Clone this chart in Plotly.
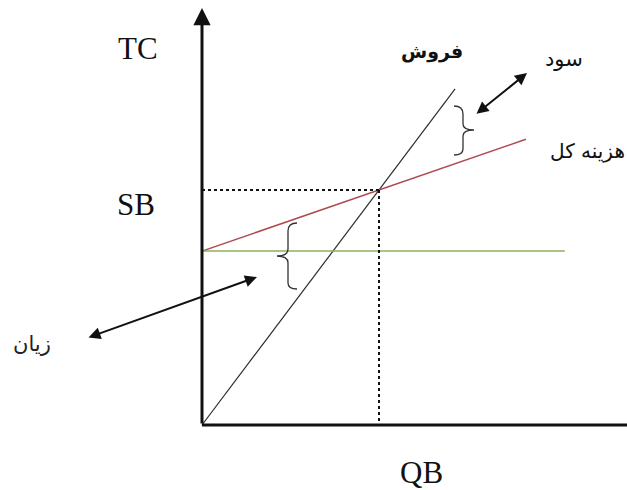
import plotly.graph_objects as go

# ---------------- data (chart units) ----------------
sales_q = [0.0, 7.15]
sales_v = [0.0, 14.3]
cost_q = [0.0, 9.15]
cost_v = [7.4, 12.16]
fixed_q = [0.0, 10.25]
fixed_v = [7.4, 7.4]
breakeven_q = 5.0
breakeven_v = 10.0

label_tc = "TC"
label_sb = "SB"
label_qb = "QB"
label_sales = "فروش"
label_profit = "سود"
label_cost = "هزینه کل"
label_loss = "زیان"

# ---------------- layout helpers ----------------
W, H = 627, 490
OX, OY = 202, 425          # origin in pixels
SX, SY = 35.4, 23.5        # pixels per unit
x_range = [-OX / SX, (W - OX) / SX]
y_range = [(OY - H) / SY, OY / SY]


def px2x(px):
    return (px - OX) / SX


def py2y(py):
    return (OY - py) / SY


def path_from_px(cmds):
    out = []
    for c in cmds:
        letter, pts = c[0], c[1:]
        s = letter + " " + " ".join(f"{px2x(a):.4f},{py2y(b):.4f}" for a, b in pts)
        out.append(s)
    return " ".join(out)


fig = go.Figure()

# sales line
fig.add_trace(go.Scatter(x=sales_q, y=sales_v, mode="lines",
                         line=dict(color="#2b2b2b", width=1.2), hoverinfo="skip"))
# total cost line
fig.add_trace(go.Scatter(x=cost_q, y=cost_v, mode="lines",
                         line=dict(color="#b04a50", width=1.5), hoverinfo="skip"))
# fixed cost line
fig.add_trace(go.Scatter(x=fixed_q, y=fixed_v, mode="lines",
                         line=dict(color="#8db05a", width=1.5), hoverinfo="skip"))
# break-even dotted guides
fig.add_trace(go.Scatter(x=[0, breakeven_q], y=[breakeven_v, breakeven_v], mode="lines",
                         line=dict(color="#111", width=2, dash="dot"), hoverinfo="skip"))
fig.add_trace(go.Scatter(x=[breakeven_q, breakeven_q], y=[breakeven_v, 0], mode="lines",
                         line=dict(color="#111", width=2, dash="dot"), hoverinfo="skip"))

shapes = []
# x axis
shapes.append(dict(type="line", xref="x", yref="y", x0=0, y0=0, x1=x_range[1] + 1, y1=0,
                   line=dict(color="#111", width=3)))

# braces
profit_brace = path_from_px([
    ("M", (454, 106)), ("C", (460, 106), (463, 108), (463, 114)), ("L", (463, 124)),
    ("C", (463, 128), (466, 130), (474, 130)), ("C", (466, 130), (463, 132), (463, 136)),
    ("L", (463, 149)), ("C", (463, 153), (460, 155), (454, 155)),
])
loss_brace = path_from_px([
    ("M", (297, 223)), ("C", (291, 223), (288, 225), (288, 231)), ("L", (288, 249)),
    ("C", (288, 253), (285, 256), (277, 256)), ("C", (285, 256), (288, 259), (288, 263)),
    ("L", (288, 283)), ("C", (288, 287), (291, 289), (297, 289)),
])
for p in (profit_brace, loss_brace):
    shapes.append(dict(type="path", xref="x", yref="y", path=p,
                       line=dict(color="#333", width=1.3)))

annotations = []
# y axis with arrow
annotations.append(dict(x=0, y=py2y(8), ax=0, ay=0, xref="x", yref="y", axref="x", ayref="y",
                        showarrow=True, arrowhead=2, arrowsize=1.15, arrowwidth=3,
                        arrowcolor="#111", text=""))
# double-headed arrows
annotations.append(dict(x=px2x(527), y=py2y(73), ax=px2x(475), ay=py2y(115),
                        xref="x", yref="y", axref="x", ayref="y", text="",
                        showarrow=True, arrowside="end+start", arrowhead=2, startarrowhead=2,
                        arrowsize=1.2, startarrowsize=1.2, arrowwidth=2, arrowcolor="#111"))
annotations.append(dict(x=px2x(257), y=py2y(277), ax=px2x(87), ay=py2y(338),
                        xref="x", yref="y", axref="x", ayref="y", text="",
                        showarrow=True, arrowside="end+start", arrowhead=2, startarrowhead=2,
                        arrowsize=1.2, startarrowsize=1.2, arrowwidth=2, arrowcolor="#111"))

serif = dict(family="Liberation Serif, Times New Roman, serif", size=31, color="#111")
arab = "DejaVu Sans, Noto Sans, sans-serif"


def lab(text, px, py, font, xanchor="center"):
    annotations.append(dict(text=text, x=px / W, y=1 - py / H, xref="paper", yref="paper",
                            showarrow=False, xanchor=xanchor, yanchor="middle", font=font))


lab(label_tc, 138, 49, serif)
lab(label_sb, 136, 204, serif)
lab(label_qb, 421, 472, serif)
lab("<b>" + label_sales + "</b>", 432, 52, dict(family=arab, size=19, color="#111"))
lab(label_profit, 564, 59, dict(family=arab, size=21, color="#111"))
lab(label_cost, 548, 151, dict(family=arab, size=20, color="#111"), xanchor="left")
lab(label_loss, 32, 344, dict(family=arab, size=21, color="#222"))

fig.update_layout(
    width=W, height=H, margin=dict(l=0, r=0, t=0, b=0),
    paper_bgcolor="white", plot_bgcolor="white", showlegend=False,
    xaxis=dict(range=x_range, visible=False, fixedrange=True),
    yaxis=dict(range=y_range, visible=False, fixedrange=True),
    shapes=shapes, annotations=annotations,
)

fig.write_html("out.html", config={"displayModeBar": False},
               post_script="document.body.style.margin='0';document.body.style.overflow='hidden';")
